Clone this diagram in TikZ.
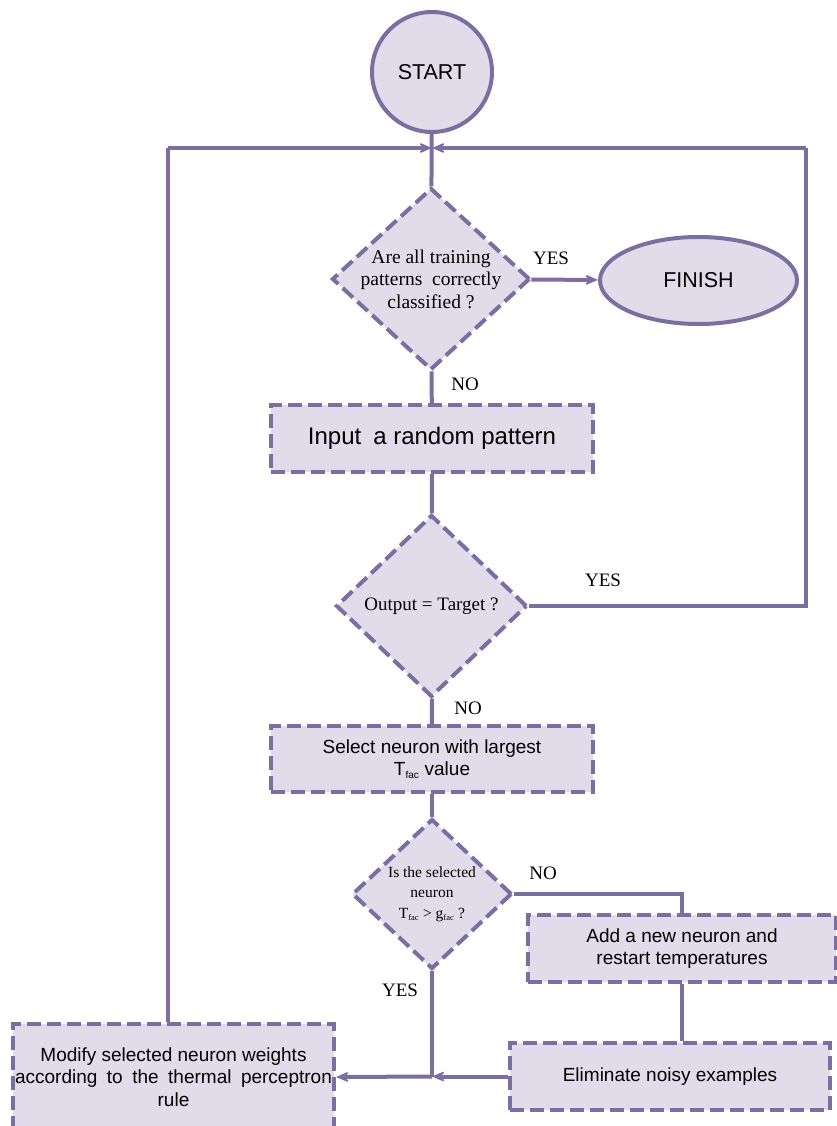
\documentclass[tikz,border=0pt]{standalone}
\usepackage{fontspec}
\setmainfont{Liberation Serif}
\setsansfont{Liberation Sans}
\usetikzlibrary{shapes.geometric,arrows.meta}
\definecolor{edgec}{RGB}{123,111,161}
\definecolor{fillc}{RGB}{225,220,233}
\begin{document}
\begin{tikzpicture}[x=1pt,y=-1pt,
 every node/.style={text=black},
 box/.style={draw=edgec, fill=fillc, line width=4pt, dash pattern=on 14pt off 6pt, inner sep=0pt, align=center, font=\sffamily\fontsize{19}{22.5}\selectfont},
 dia/.style={diamond, draw=edgec, fill=fillc, line width=4pt, dash pattern=on 14pt off 6pt, inner sep=-12pt, align=center, font=\fontsize{19.5}{22.5}\selectfont},
 term/.style={draw=edgec, fill=fillc, line width=4pt, inner sep=0pt, font=\sffamily\fontsize{21.5}{24}\selectfont},
 conn/.style={draw=edgec, line width=4pt},
 arr/.style={conn, -{Stealth[length=21pt,width=18pt,inset=14pt]}},
 lbl/.style={font=\fontsize{19}{22}\selectfont}
]
\useasboundingbox (0,0) rectangle (837,1126);

\node[term, circle, minimum size=120pt] (start) at (432,72) {START};
\node[term, ellipse, minimum width=197pt, minimum height=87pt] (finish) at (698.5,280.5) {FINISH};

\node[dia, minimum width=198pt, minimum height=182pt] (d1) at (431,279) {Are all training\\patterns\enspace correctly\\classified ?};
\node[box, minimum width=322pt, minimum height=67pt, font=\sffamily\fontsize{24}{28}\selectfont] (inp) at (432,438.5) {Input\enspace a random pattern};
\node[dia, minimum width=191pt, minimum height=182pt, font=\fontsize{19}{22}\selectfont] (d2) at (431.5,606) {Output = Target ?};
\node[box, minimum width=322pt, minimum height=66pt] (sel) at (432,759) {Select neuron with largest\\T\textsubscript{\fontsize{10}{10}\selectfont fac} value};
\node[dia, minimum width=160pt, minimum height=150pt, font=\fontsize{15.5}{20.5}\selectfont] (d3) at (432,894) {Is the selected\\neuron\\T\textsubscript{\fontsize{8.5}{8.5}\selectfont fac} \textgreater{} g\textsubscript{\fontsize{8.5}{8.5}\selectfont fac} ?};
\node[box, minimum width=308pt, minimum height=67pt] (add) at (682,948.5) {Add a new neuron and\\restart temperatures};
\node[box, minimum width=320pt, minimum height=67pt] (elim) at (670,1076.5) {Eliminate noisy examples};
\node[box, minimum width=321pt, minimum height=106pt] (mod) at (173.5,1077) {Modify selected neuron weights\\according\enspace to\enspace the\enspace thermal\enspace perceptron\\rule};

\coordinate (jn) at (432,148);
\coordinate (lc) at (168,148);
\coordinate (rc) at (806,148);
\coordinate (jb) at (432,1076.5);

\draw[conn] (start) -- (d1);
\draw[arr] (d1) -- (finish);
\draw[conn] (d1) -- (inp);
\draw[conn] (inp) -- (d2);
\draw[conn] (d2.east) -| (rc);
\draw[arr] (rc) -- (jn);
\draw[conn] (mod.north -| lc) -- (lc);
\draw[arr] (lc) -- (jn);
\draw[conn] (d2) -- (sel);
\draw[conn] (sel) -- (d3);
\draw[conn] (d3.east) -| (add.north);
\draw[conn] (add.south) -- (add.south |- elim.north);
\draw[arr] (elim.west) -- (jb);
\draw[conn] (d3.south) -- (jb);
\draw[arr] (jb) -- (mod.east);

\node[lbl] (l1) at (551,258) {YES};
\node[lbl] (l2) at (465,384) {NO};
\node[lbl] (l3) at (603,580) {YES};
\node[lbl] (l4) at (468,708) {NO};
\node[lbl] (l5) at (543,873) {NO};
\node[lbl] (l6) at (400,990) {YES};
\end{tikzpicture}
\end{document}
